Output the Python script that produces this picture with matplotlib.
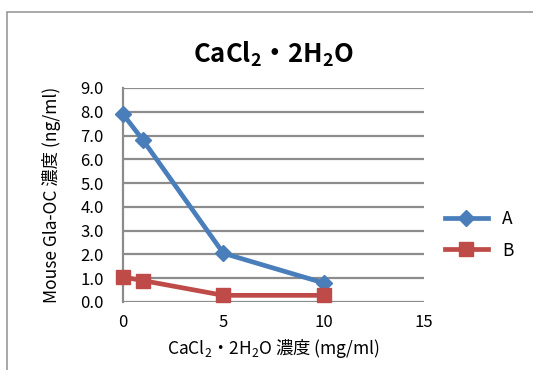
import matplotlib.pyplot as plt
from matplotlib.patches import Rectangle

plt.rcParams['font.family'] = ['Noto Sans CJK JP', 'DejaVu Sans']
plt.rcParams['mathtext.fontset'] = 'custom'
plt.rcParams['mathtext.rm'] = 'Noto Sans CJK JP'
plt.rcParams['mathtext.bf'] = 'Noto Sans CJK JP:bold'

# data
conc = [0, 1, 5, 10]
series_a = [7.9, 6.8, 2.05, 0.8]
series_b = [1.05, 0.9, 0.28, 0.28]
yticks = [0, 1, 2, 3, 4, 5, 6, 7, 8, 9]
xticks = [0, 5, 10, 15]

fig = plt.figure(figsize=(5.33, 3.70), dpi=100)
ax = fig.add_axes([0.2308, 0.1838, 0.5647, 0.5784])

# outer chart frame
fig.patches.append(Rectangle((7 / 533, -0.1), 1.2, 1 - 12 / 370 + 0.1, transform=fig.transFigure,
                             fill=False, edgecolor='#9a9a9a', linewidth=1.2, clip_on=False))

grid_col = '#8c8c8c'
for y in yticks:
    ax.axhline(y, color=grid_col, linewidth=1.6, zorder=1)

ax.plot(conc, series_a, color='#4a7ebb', linewidth=3.4, marker='D', markersize=8.5,
        label='A', zorder=3, clip_on=False)
ax.plot(conc, series_b, color='#be4b48', linewidth=3.4, marker='s', markersize=10,
        label='B', zorder=3, clip_on=False)

ax.set_xlim(0, 15)
ax.set_ylim(0, 9)
ax.set_xticks(xticks)
ax.set_yticks(yticks)
ax.set_yticklabels([f'{v:.1f}' for v in yticks])
ax.tick_params(length=0, labelsize=12)
ax.tick_params(axis='y', pad=14)
ax.tick_params(axis='x', pad=9)

for side in ['top', 'right', 'bottom']:
    ax.spines[side].set_visible(False)
ax.spines['left'].set_color(grid_col)
ax.spines['left'].set_linewidth(1.6)

ax.set_title(r'CaCl$_\mathbf{2}$・2H$_\mathbf{2}$O', fontsize=18.5, fontweight='bold', pad=18)
ax.set_xlabel(r'CaCl$_\mathrm{2}$・2H$_\mathrm{2}$O 濃度 (mg/ml)', fontsize=12.5, labelpad=4)
ax.set_ylabel('Mouse Gla-OC 濃度 (ng/ml)', fontsize=12.5, labelpad=14)

ax.legend(loc='center left', bbox_to_anchor=(1.017, 0.315), frameon=False, fontsize=12.5,
          handlelength=2.5, labelspacing=0.8, handletextpad=0.8)

fig.savefig('out.png', dpi=100)
